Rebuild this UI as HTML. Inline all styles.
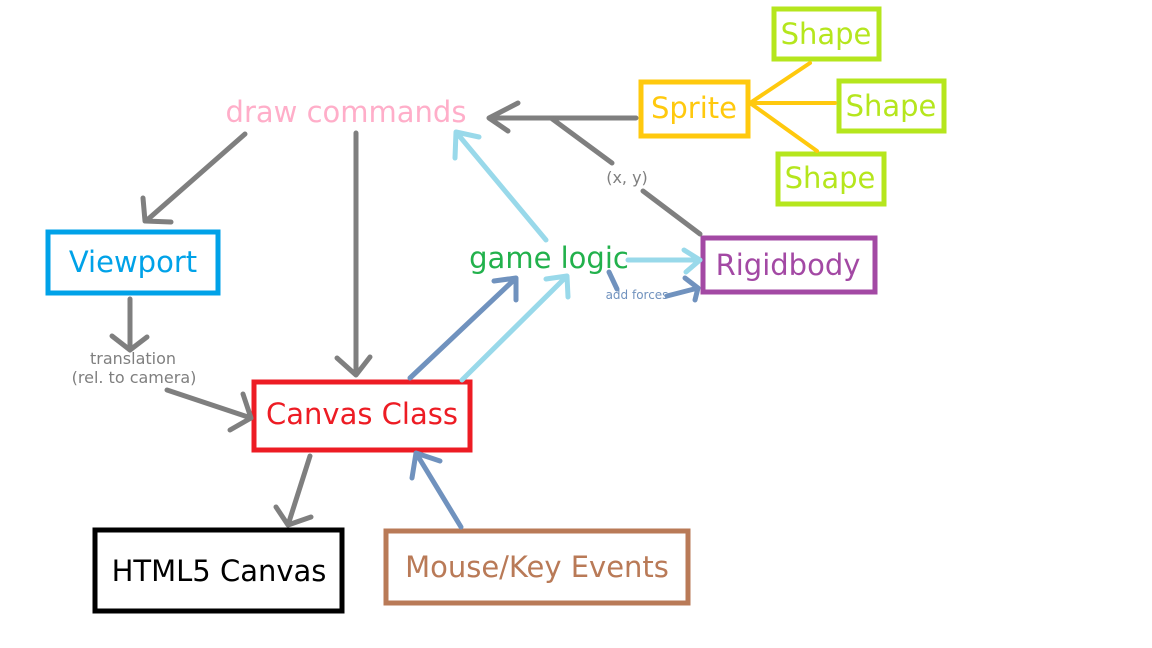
<!DOCTYPE html>
<html><head><meta charset="utf-8"><style>
html,body{margin:0;padding:0;background:#fff;}
svg{display:block;}
text{font-family:"DejaVu Sans","Liberation Sans",sans-serif;}
</style></head><body>
<svg width="1152" height="648" viewBox="0 0 1152 648" xmlns="http://www.w3.org/2000/svg">
<g fill="none" stroke-linejoin="miter">
<rect x="48" y="232" width="170" height="61" stroke="#00a2e8" stroke-width="5"/>
<rect x="254" y="382" width="216" height="68" stroke="#ed1c24" stroke-width="5"/>
<rect x="95" y="530" width="247" height="81" stroke="#000" stroke-width="5"/>
<rect x="386" y="531" width="302" height="72" stroke="#b97a57" stroke-width="5"/>
<rect x="703" y="238" width="172" height="54" stroke="#a349a4" stroke-width="5"/>
<rect x="641" y="82" width="107" height="54" stroke="#ffc90e" stroke-width="5"/>
<rect x="774" y="9" width="105" height="50" stroke="#b5e61d" stroke-width="5"/>
<rect x="839" y="81" width="105" height="50" stroke="#b5e61d" stroke-width="5"/>
<rect x="778" y="154" width="106" height="50" stroke="#b5e61d" stroke-width="5"/>
</g>
<g fill="none" stroke-linecap="round" stroke-linejoin="round">
<g stroke="#7f7f7f" stroke-width="5">
<path d="M245 134 L146 221 M143 198 L145 221 L171 222"/>
<path d="M356 133 L356 374 M337 358 L356 375 L370 357"/>
<path d="M130 299 L130 350 M112 336 L130 350 L147 337"/>
<path d="M167 390 L251 418 M243 394 L251 418 L230 430"/>
<path d="M310 456 L288 525 M276 507 L288 525 L311 517"/>
<path d="M636 118 L489 118 M518 103 L489 118 L508 131"/>
<path d="M551 118 L612 163 M643 191 L700 234"/>
</g>
<g stroke="#ffc90e" stroke-width="4">
<path d="M750 103 L810 63 M750 103 L835 103 M750 103 L817 151"/>
</g>
<g stroke="#99d9ea" stroke-width="5">
<path d="M546 240 L456 132 M455 158 L456 132 L479 137"/>
<path d="M462 380 L567 276 M546 279 L567 276 L568 297"/>
<path d="M628 260 L700 260 M684 250 L700 260 L686 272"/>
</g>
<g stroke="#7092be" stroke-width="5">
<path d="M410 378 L516 278 M494 281 L516 278 L516 300"/>
<path d="M461 527 L416 453 M412 478 L416 453 L440 461"/>
<path d="M609 272 L617 289"/>
<path d="M667 296 L698 288 M685 278 L698 288 L695 300"/>
</g>
</g>
<g font-size="29" text-anchor="middle">
<text x="133" y="272" fill="#00a2e8">Viewport</text>
<text x="362" y="424" fill="#ed1c24">Canvas Class</text>
<text x="219" y="581" fill="#000">HTML5 Canvas</text>
<text x="537" y="577" fill="#b97a57">Mouse/Key Events</text>
<text x="788" y="275" fill="#a349a4">Rigidbody</text>
<text x="694" y="118" fill="#ffc90e">Sprite</text>
<text x="826" y="44" fill="#b5e61d">Shape</text>
<text x="891" y="116" fill="#b5e61d">Shape</text>
<text x="830" y="188" fill="#b5e61d">Shape</text>
<text x="346" y="122" fill="#ffaec9">draw commands</text>
<text x="549" y="268" fill="#22b14c">game logic</text>
</g>
<g font-size="16" fill="#7f7f7f" text-anchor="middle">
<text x="133" y="364">translation</text>
<text x="134" y="383">(rel. to camera)</text>
<text x="627" y="183">(x, y)</text>
</g>
<text x="637" y="299" font-size="12" fill="#7092be" text-anchor="middle">add forces</text>
</svg>
</body></html>
